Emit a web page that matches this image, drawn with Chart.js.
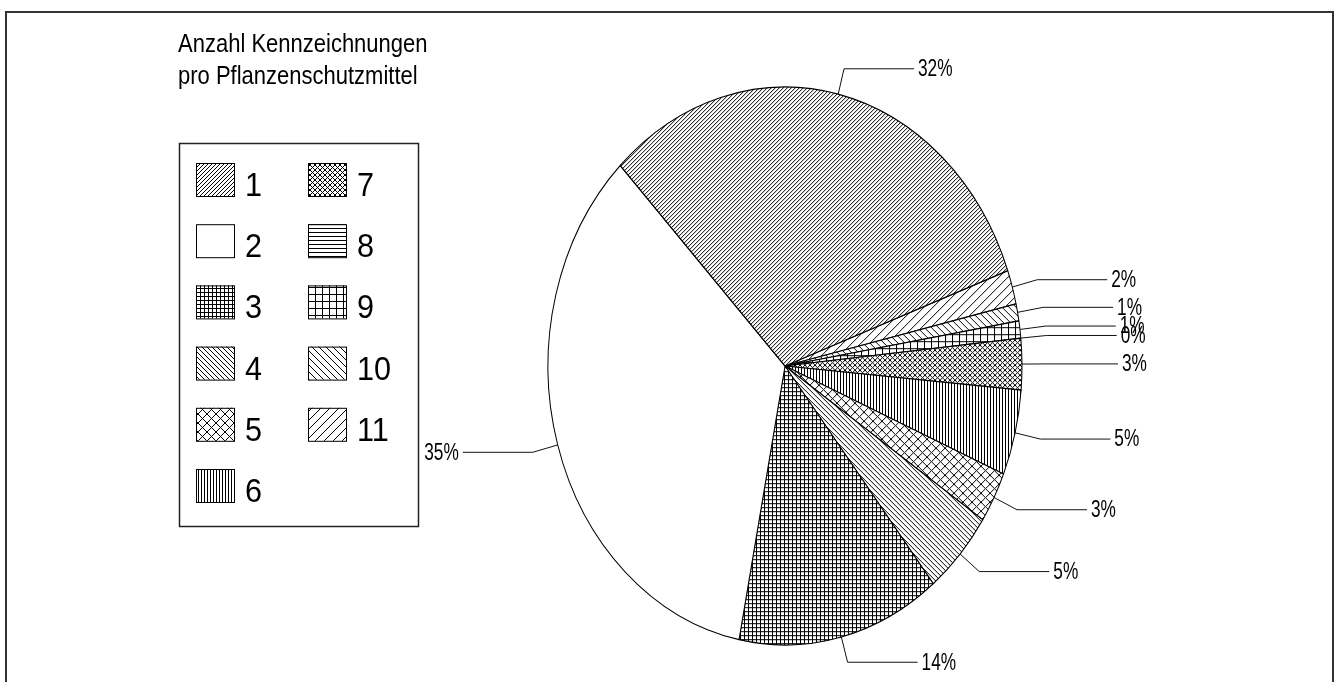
<!DOCTYPE html>
<html lang="de">
<head>
<meta charset="utf-8">
<title>Anzahl Kennzeichnungen pro Pflanzenschutzmittel</title>
<script src="https://cdn.jsdelivr.net/npm/chart.js@4.4.1/dist/chart.umd.min.js"></script>
<style>
  html, body { margin: 0; padding: 0; background: #fff; }
  canvas { display: block; }
</style>
</head>
<body>
<canvas id="pie" width="1340" height="682"></canvas>
<script>
// Number of hazard labels per plant protection product (share of products, %)
const categories = ['1', '2', '3', '4', '5', '6', '7', '8', '9', '10', '11'];
const shares = [32, 35, 14, 5, 3, 5, 3, 0, 1, 1, 2];
const titleLines = ['Anzahl Kennzeichnungen', 'pro Pflanzenschutzmittel'];

// Hatch style per category
const hatchKinds = [
  { type: 'slash', size: 4 },     // 1
  { type: 'blank', size: 4 },     // 2
  { type: 'grid', size: 4 },      // 3
  { type: 'back', size: 5 },      // 4
  { type: 'cross', size: 9 },     // 5
  { type: 'vert', size: 3 },      // 6
  { type: 'cross', size: 5 },     // 7
  { type: 'horiz', size: 4 },     // 8
  { type: 'grid', size: 7 },      // 9
  { type: 'back', size: 7 },      // 10
  { type: 'slash', size: 9 }      // 11
];

const stretch = 279 / 237;   // vertical stretch that turns the pie into an upright ellipse
const FONT = '"Liberation Sans", Arial, Helvetica, sans-serif';

function makeTile(kind) {
  const s = kind.size;
  const c = document.createElement('canvas');
  c.width = s; c.height = s;
  const g = c.getContext('2d');
  g.fillStyle = '#fff';
  g.fillRect(0, 0, s, s);
  g.strokeStyle = '#000';
  g.lineWidth = 1;
  g.beginPath();
  const slash = () => {
    g.moveTo(0, s); g.lineTo(s, 0);
    g.moveTo(-1, 1); g.lineTo(1, -1);
    g.moveTo(s - 1, s + 1); g.lineTo(s + 1, s - 1);
  };
  const back = () => {
    g.moveTo(0, 0); g.lineTo(s, s);
    g.moveTo(-1, s - 1); g.lineTo(1, s + 1);
    g.moveTo(s - 1, -1); g.lineTo(s + 1, 1);
  };
  switch (kind.type) {
    case 'slash': slash(); break;
    case 'back': back(); break;
    case 'cross': slash(); back(); break;
    case 'vert': g.moveTo(0.5, 0); g.lineTo(0.5, s); break;
    case 'horiz': g.moveTo(0, 0.5); g.lineTo(s, 0.5); break;
    case 'grid':
      g.moveTo(0.5, 0); g.lineTo(0.5, s);
      g.moveTo(0, 0.5); g.lineTo(s, 0.5);
      break;
  }
  g.stroke();
  return c;
}

const tiles = hatchKinds.map(makeTile);
const scratch = document.createElement('canvas').getContext('2d');
const legendPatterns = tiles.map(t => scratch.createPattern(t, 'repeat'));
const piePatterns = tiles.map(t => {
  const p = scratch.createPattern(t, 'repeat');
  // undo the vertical stretch so hatching keeps its proportions inside the ellipse
  p.setTransform(new DOMMatrix().scale(1, 1 / stretch));
  return p;
});

// Chart.js draws clockwise; the categories run counter-clockwise, so feed them reversed
const order = categories.map((_, i) => i).reverse();

function drawText(ctx, text, x, y, size, scaleX, align, baseline) {
  ctx.save();
  ctx.font = size + 'px ' + FONT;
  ctx.textAlign = 'left';
  ctx.textBaseline = baseline || 'alphabetic';
  const w = ctx.measureText(text).width * scaleX;
  const x0 = align === 'right' ? x - w : (align === 'center' ? x - w / 2 : x);
  ctx.translate(x0, y);
  ctx.scale(scaleX, 1);
  ctx.fillStyle = '#000';
  ctx.fillText(text, 0, 0);
  ctx.restore();
}

const ellipsePlugin = {
  id: 'ellipse',
  beforeDatasetsDraw(chart) {
    const a = chart.chartArea;
    const cx = (a.left + a.right) / 2, cy = (a.top + a.bottom) / 2;
    const ctx = chart.ctx;
    ctx.save();
    ctx.translate(cx, cy);
    ctx.scale(1, stretch);
    ctx.translate(-cx, -cy);
  },
  afterDatasetsDraw(chart) {
    chart.ctx.restore();
  }
};

const decorPlugin = {
  id: 'decor',
  beforeDraw(chart) {
    const ctx = chart.ctx;
    ctx.save();
    ctx.fillStyle = '#fff';
    ctx.fillRect(0, 0, chart.width, chart.height);
    ctx.restore();
  },
  afterDraw(chart) {
    const ctx = chart.ctx;
    ctx.save();

    // outer frame (open at the bottom)
    ctx.strokeStyle = '#333';
    ctx.lineWidth = 2;
    ctx.beginPath();
    ctx.moveTo(6, chart.height);
    ctx.lineTo(6, 12);
    ctx.lineTo(1333, 12);
    ctx.lineTo(1333, chart.height);
    ctx.stroke();

    // title
    drawText(ctx, titleLines[0], 178, 52, 25, 0.88, 'left');
    drawText(ctx, titleLines[1], 178, 84, 25, 0.88, 'left');

    // legend box
    ctx.strokeStyle = '#222';
    ctx.lineWidth = 1.5;
    ctx.strokeRect(179.5, 143.5, 239, 383);

    const rowsPerCol = 6;
    categories.forEach((cat, i) => {
      const col = Math.floor(i / rowsPerCol);
      const row = i % rowsPerCol;
      const sx = col === 0 ? 196 : 308;
      const sy = 163 + row * 61.2;
      ctx.fillStyle = legendPatterns[i];
      ctx.fillRect(sx, sy, 38, 33);
      ctx.strokeStyle = '#000';
      ctx.lineWidth = 1;
      ctx.strokeRect(sx + 0.5, sy + 0.5, 38, 33);
      drawText(ctx, cat, sx + 49, sy + 33, 34, 0.9, 'left');
    });

    // leader lines and percentage labels
    const meta = chart.getDatasetMeta(0);
    ctx.strokeStyle = '#111';
    ctx.lineWidth = 1;
    meta.data.forEach((arc, j) => {
      const idx = order[j];
      const p = arc.getProps(['startAngle', 'endAngle', 'x', 'y', 'outerRadius'], true);
      const mid = (p.startAngle + p.endAngle) / 2;
      const c = Math.cos(mid), s = Math.sin(mid);
      const rx = p.x + p.outerRadius * c;
      const ry = p.y + p.outerRadius * s * stretch;
      const bx = rx + 26 * c;
      const by = ry + 26 * s;
      const dir = c >= 0 ? 1 : -1;
      const ex = bx + dir * 70;
      ctx.beginPath();
      ctx.moveTo(rx, ry);
      ctx.lineTo(bx, by);
      ctx.lineTo(ex, by);
      ctx.stroke();
      drawText(ctx, shares[idx] + '%', ex + dir * 4, by + 1, 23, 0.75,
               dir > 0 ? 'left' : 'right', 'middle');
    });

    ctx.restore();
  }
};

new Chart(document.getElementById('pie'), {
  type: 'pie',
  data: {
    labels: order.map(i => categories[i]),
    datasets: [{
      data: order.map(i => shares[i]),
      backgroundColor: order.map(i => piePatterns[i]),
      borderColor: '#000',
      borderWidth: 1,
      clip: false
    }]
  },
  options: {
    responsive: false,
    animation: false,
    events: [],
    rotation: 70,
    layout: { padding: { left: 547.5, right: 317.5, top: 128.5, bottom: 78.5 } },
    plugins: {
      legend: { display: false },
      title: { display: false },
      tooltip: { enabled: false }
    }
  },
  plugins: [ellipsePlugin, decorPlugin]
});
</script>
</body>
</html>
